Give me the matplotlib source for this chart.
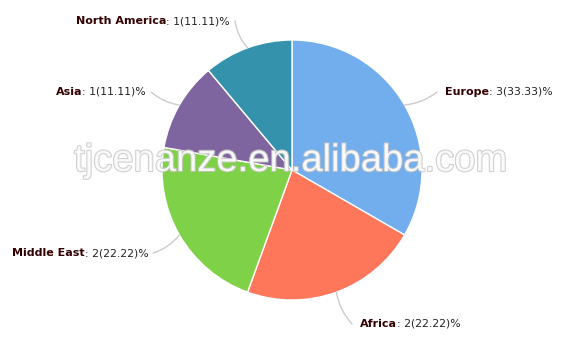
import matplotlib
matplotlib.use("Agg")
import matplotlib.pyplot as plt
import matplotlib.patheffects as pe
import numpy as np

regions = ["Europe", "Africa", "Middle East", "Asia", "North America"]
counts = [3, 2, 2, 1, 1]
colors = ["#72aeee", "#fe775a", "#7fd147", "#7e65a0", "#3592ad"]
# label text anchor (left edge, vertical centre) in pixel coords, y from top
label_pos = [(445, 92), (360, 324), (12, 253), (56, 92), (76, 21)]

W, H = 586, 346
cx, cy, r = 292, 170, 130

fig = plt.figure(figsize=(W / 100, H / 100), dpi=100)
ax = fig.add_axes([0, 0, 1, 1])

wedges, _ = ax.pie(counts, colors=colors, startangle=90, counterclock=False,
                   center=(cx, H - cy), radius=r, frame=True,
                   wedgeprops=dict(edgecolor="white", linewidth=1))
ax.set_xlim(0, W)
ax.set_ylim(0, H)
ax.set_aspect("equal")
ax.axis("off")

total = sum(counts)
txt_col = "#330000"
for w, name, n, (lx, ly) in zip(wedges, regions, counts, label_pos):
    ang = np.deg2rad((w.theta1 + w.theta2) / 2)
    ex = cx + r * np.cos(ang)
    ey = H - cy + r * np.sin(ang)
    left_side = lx < cx
    t = ax.text(lx, H - ly, name, fontsize=8, fontweight="bold", color=txt_col,
                va="center", ha="left", family="DejaVu Sans")
    t2 = ax.annotate(": %d(%.2f)%%" % (n, 100 * n / total), xy=(1, 0.5),
                     xycoords=t, va="center", ha="left", fontsize=7.8,
                     color="#222222", family="DejaVu Sans")
    fig.canvas.draw()
    if left_side:
        bb = t2.get_window_extent()
        tx = bb.x1 + 5
    else:
        bb = t.get_window_extent()
        tx = bb.x0 - 8
    ax.annotate("", xy=(ex, ey), xytext=(tx, H - ly),
                arrowprops=dict(arrowstyle="-", color="#cccccc", lw=1,
                                shrinkA=0, shrinkB=0,
                                connectionstyle="arc3,rad=%s" % (0.15 if left_side else -0.15)))

# watermark
ax.text(291, H - 161, "tjcenanze.en.alibaba.com", fontsize=27.5, color="white",
        alpha=0.8, ha="center", va="center", family="Liberation Sans",
        path_effects=[pe.withStroke(linewidth=1.5, foreground="#c4c4c4")])

fig.savefig("out.png", dpi=100)
